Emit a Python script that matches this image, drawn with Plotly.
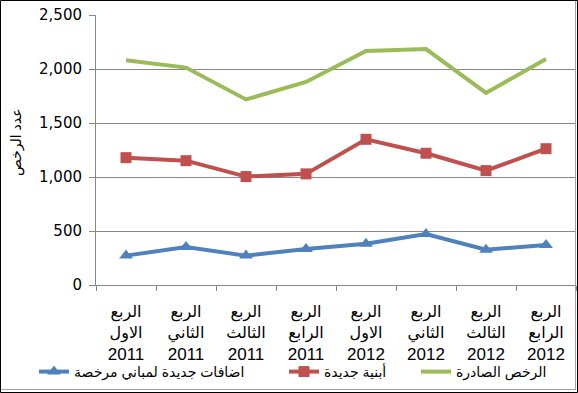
import plotly.graph_objects as go

quarters = ["الربع<br>الاول", "الربع<br>الثاني", "الربع<br>الثالث", "الربع<br>الرابع",
            "الربع<br>الاول", "الربع<br>الثاني", "الربع<br>الثالث", "الربع<br>الرابع"]
years = ["2011", "2011", "2011", "2011", "2012", "2012", "2012", "2012"]

permits_issued = [2080, 2013, 1718, 1880, 2166, 2185, 1779, 2092]
new_buildings = [1179, 1151, 1004, 1029, 1349, 1220, 1059, 1262]
additions = [272, 352, 272, 334, 383, 472, 327, 371]

names = ["الرخص الصادرة", "أبنية جديدة", "اضافات جديدة لمباني مرخصة"]
y_title = "عدد الرخص"
y_ticks = [0, 500, 1000, 1500, 2000, 2500]

GREEN = "#9BBB59"
RED = "#C0504D"
BLUE = "#4F81BD"
GRID = "#878787"
AR_FONT = "Liberation Sans, DejaVu Sans, Arial, sans-serif"

idx = list(range(len(quarters)))

W, H = 578, 393
ML, MR, MT, MB = 96, 2, 15, 108
PW, PH = W - ML - MR, H - MT - MB


def px_x(p):
    return (p - ML) / PW


def px_y(p):
    return (H - MB - p) / PH


fig = go.Figure()
fig.add_trace(go.Scatter(x=idx, y=permits_issued, name=names[0], mode="lines",
                         line=dict(color=GREEN, width=4), legend="legend3"))
fig.add_trace(go.Scatter(x=idx, y=new_buildings, name=names[1], mode="lines+markers",
                         line=dict(color=RED, width=4),
                         marker=dict(symbol="square", size=11, color=RED), legend="legend2"))
fig.add_trace(go.Scatter(x=idx, y=additions, name=names[2], mode="lines+markers",
                         line=dict(color=BLUE, width=4),
                         marker=dict(symbol="triangle-up", size=12, color=BLUE), legend="legend"))
# helper trace so the year axis is drawn
fig.add_trace(go.Scatter(x=idx, y=additions, xaxis="x2", mode="lines", opacity=0,
                         line=dict(width=0), showlegend=False, hoverinfo="skip"))

bounds = [i - 0.5 for i in range(len(quarters) + 1)]

leg_common = dict(orientation="h", yanchor="middle", xanchor="left",
                  bgcolor="rgba(0,0,0,0)", font=dict(family=AR_FONT, size=14, color="#000"),
                  itemclick=False)

fig.update_layout(
    width=W, height=H,
    margin=dict(l=ML, r=MR, t=MT, b=MB, pad=0, autoexpand=False),
    paper_bgcolor="white", plot_bgcolor="white",
    xaxis=dict(range=[-0.5, len(quarters) - 0.5], tickmode="array", tickvals=idx, ticktext=quarters,
               ticks="", showgrid=False, zeroline=False, showline=True, linecolor=GRID, linewidth=1,
               automargin=False,
               tickfont=dict(family=AR_FONT, size=16, color="#000"), ticklabelstandoff=12,
               minor=dict(tickmode="array", tickvals=bounds, ticks="outside", ticklen=5,
                          tickcolor=GRID, showgrid=False)),
    xaxis2=dict(range=[-0.5, len(quarters) - 0.5], overlaying="x", side="bottom", anchor="y",
                tickmode="array", tickvals=idx, ticktext=years, ticks="", showgrid=False,
                zeroline=False, showline=False, automargin=False,
                tickfont=dict(family=AR_FONT, size=17, color="#000"), ticklabelstandoff=57),
    yaxis=dict(range=[0, 2500], tickmode="array", tickvals=y_ticks, tickformat=",",
               showgrid=True, gridcolor=GRID, gridwidth=1, zeroline=False, automargin=False,
               showline=True, linecolor=GRID, ticks="outside", ticklen=6, tickcolor=GRID,
               tickfont=dict(family="DejaVu Sans", size=15, color="#000"),
               ticklabelstandoff=4),
    annotations=[dict(text=y_title, xref="paper", yref="paper", x=px_x(16), y=px_y(142),
                      textangle=-90, showarrow=False, xanchor="center", yanchor="middle",
                      font=dict(family=AR_FONT, size=14, color="#000"))],
    legend=dict(x=px_x(34), y=px_y(372), **leg_common),
    legend2=dict(x=px_x(284), y=px_y(372), **leg_common),
    legend3=dict(x=px_x(416), y=px_y(372), **leg_common),
    showlegend=True,
    shapes=[
        dict(type="line", xref="paper", yref="paper", x0=px_x(575.5), x1=px_x(575.5),
             y0=px_y(1), y1=px_y(389), line=dict(color="#A0A0A0", width=1)),
        dict(type="line", xref="paper", yref="paper", x0=px_x(1), x1=px_x(576),
             y0=px_y(389.5), y1=px_y(389.5), line=dict(color="#A0A0A0", width=1)),
        dict(type="rect", xref="paper", yref="paper", x0=px_x(0.5), x1=px_x(577.5),
             y0=px_y(392.5), y1=px_y(0.5), line=dict(color="#000", width=1)),
    ],
)

fig.write_html("out.html", config={"displayModeBar": False},
               post_script="document.body.style.margin='0';document.body.style.overflow='hidden';")
